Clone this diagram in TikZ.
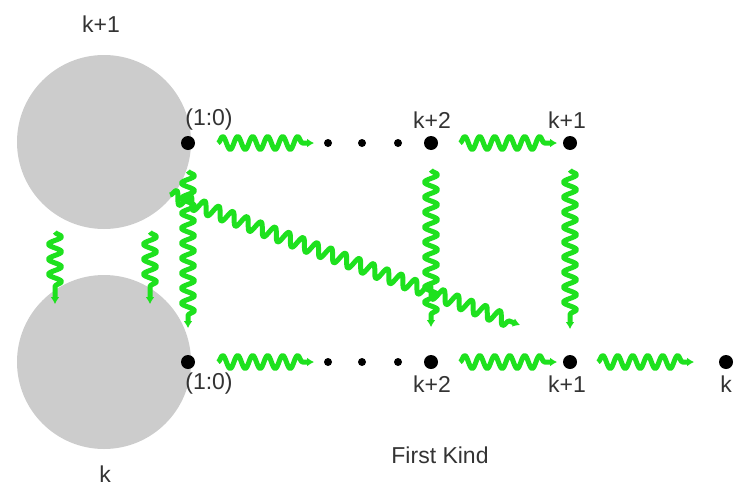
\documentclass[tikz,border=0pt]{standalone}
\usepackage{fontspec}
\setmainfont{Liberation Sans}
\usetikzlibrary{decorations.pathmorphing,arrows.meta,calc}
\definecolor{wavegreen}{RGB}{30,225,30}
\definecolor{ballgray}{RGB}{204,204,204}
\begin{document}
\begin{tikzpicture}[x=1pt,y=-1pt,
  ball/.style={circle,fill=ballgray,draw=none,minimum size=174pt,inner sep=0pt},
  bigdot/.style={circle,fill=black,inner sep=0pt,minimum size=14pt},
  smalldot/.style={circle,fill=black,inner sep=0pt,minimum size=8pt},
  lbl/.style={font=\fontsize{23pt}{26pt}\selectfont,text=black!80,inner sep=0pt},
  wave/.style={draw=wavegreen,line width=5pt,line join=round,
    decorate,decoration={snake,amplitude=6.5pt,segment length=15pt,post length=11pt},
    -{Latex[length=7pt,width=9pt]}}]
\useasboundingbox (0,0) rectangle (736,490);
% balls
\node[ball] (ballT) at (104,142) {};
\node[ball] (ballB) at (104,362) {};
\node[lbl] (lkT) at (101,24) {k+1};
\node[lbl] (lkB) at (105,474) {k};
% top row
\node[bigdot] (t0) at (188,143) {};
\node[smalldot] (t1) at (328,143) {};
\node[smalldot] (t2) at (362,143) {};
\node[smalldot] (t3) at (398,143) {};
\node[bigdot] (t4) at (431,143) {};
\node[bigdot] (t5) at (570,143) {};
% bottom row
\node[bigdot] (b0) at (188,362) {};
\node[smalldot] (b1) at (328,362) {};
\node[smalldot] (b2) at (362,362) {};
\node[smalldot] (b3) at (398,362) {};
\node[bigdot] (b4) at (431,362) {};
\node[bigdot] (b5) at (570,362) {};
\node[bigdot] (b6) at (726,362) {};
% labels
\node[lbl] (lt0) at (209,120) {(1:0)};
\node[lbl] (lt4) at (432,120) {k+2};
\node[lbl] (lt5) at (567,120) {k+1};
\node[lbl] (lb0) at (209,384) {(1:0)};
\node[lbl] (lb4) at (432,384) {k+2};
\node[lbl] (lb5) at (567,384) {k+1};
\node[lbl] (lb6) at (726,384) {k};
\node[lbl] (title) at (440,455) {First Kind};
% horizontal waves
\draw[wave] ($(t0.center)+(30,0)$) -- ($(t1.center)+(-14,0)$);
\draw[wave] ($(t4.center)+(29,0)$) -- ($(t5.center)+(-13,0)$);
\draw[wave] ($(b0.center)+(30,0)$) -- ($(b1.center)+(-14,0)$);
\draw[wave] ($(b4.center)+(29,0)$) -- ($(b5.center)+(-13,0)$);
\draw[wave] ($(b5.center)+(28,0)$) -- ($(b6.center)+(-32,0)$);
% vertical waves
\draw[wave] ($(t0.center)+(0,28)$) -- ($(b0.center)+(0,-34)$);
\draw[wave] ($(t4.center)+(0,27)$) -- ($(b4.center)+(0,-35)$);
\draw[wave] ($(t5.center)+(0,27)$) -- ($(b5.center)+(0,-33)$);
% between balls
\draw[wave] ($(ballT.center)+(-49,90)$) -- ($(ballB.center)+(-49,-58)$);
\draw[wave] ($(ballT.center)+(46,90)$) -- ($(ballB.center)+(46,-58)$);
% diagonal
\coordinate (dEnd) at ($(b4.center)+(89,-37)$);
\draw[wave] ($(t0.center)+(-18,52)$) -- (dEnd);
\end{tikzpicture}
\end{document}
